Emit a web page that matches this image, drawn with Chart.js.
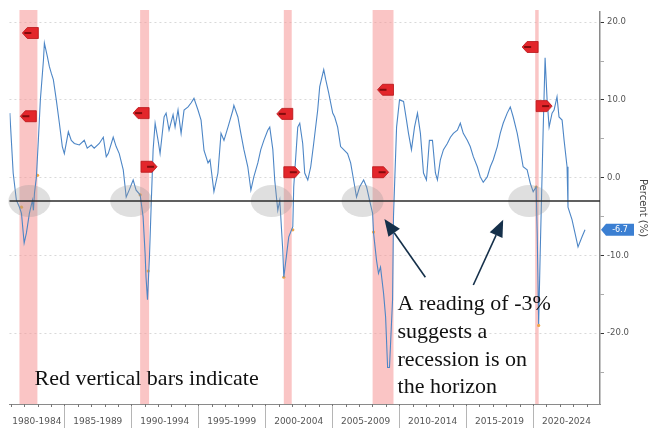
<!DOCTYPE html>
<html>
<head>
<meta charset="utf-8">
<script src="https://cdn.jsdelivr.net/npm/chart.js@4.4.0/dist/chart.umd.min.js"></script>
<style>
  html, body { margin: 0; padding: 0; background: #fff; }
  #wrap { width: 649px; height: 429px; }
</style>
</head>
<body>
<div id="wrap"><canvas id="chart" width="649" height="429"></canvas></div>
<script>
// series (year, percent)
const years = [
  1980.93, 1981.18, 1981.42, 1981.65, 1981.80, 1982.00, 1982.17, 1982.39, 1982.62, 1982.69,
  1982.77, 1982.91, 1983.06, 1983.21, 1983.44, 1983.51, 1983.73, 1983.88, 1984.03, 1984.18,
  1984.40, 1984.63, 1984.85, 1985.00, 1985.30, 1985.52, 1985.75, 1986.12, 1986.49, 1986.71,
  1987.01, 1987.23, 1987.61, 1987.91, 1988.13, 1988.28, 1988.65, 1988.87, 1989.10, 1989.40,
  1989.62, 1989.84, 1990.14, 1990.36, 1990.66, 1990.88, 1991.03, 1991.10, 1991.21, 1991.36,
  1991.48, 1991.63, 1991.78, 1992.00, 1992.15, 1992.45, 1992.60, 1992.82, 1993.12, 1993.27,
  1993.49, 1993.72, 1993.94, 1994.24, 1994.46, 1994.68, 1994.98, 1995.21, 1995.43, 1995.73,
  1995.88, 1996.17, 1996.47, 1996.70, 1996.92, 1997.22, 1997.59, 1997.66, 1997.96, 1998.18,
  1998.41, 1998.70, 1998.93, 1999.15, 1999.45, 1999.67, 1999.90, 2000.19, 2000.34, 2000.57,
  2000.71, 2000.94, 2001.09, 2001.31, 2001.39, 2001.61, 2001.76, 2002.06, 2002.13, 2002.43,
  2002.58, 2002.80, 2002.95, 2003.18, 2003.40, 2003.62, 2003.92, 2004.07, 2004.37, 2004.52,
  2004.74, 2005.04, 2005.19, 2005.41, 2005.63, 2005.86, 2006.15, 2006.38, 2006.60, 2006.82,
  2007.05, 2007.35, 2007.57, 2007.79, 2008.02, 2008.09, 2008.31, 2008.46, 2008.61, 2008.84,
  2008.99, 2009.14, 2009.28, 2009.51, 2009.58, 2009.81, 2010.03, 2010.33, 2010.55, 2010.70,
  2010.92, 2011.15, 2011.37, 2011.59, 2011.82, 2012.04, 2012.26, 2012.49, 2012.71, 2012.86,
  2013.08, 2013.31, 2013.60, 2013.83, 2014.05, 2014.35, 2014.57, 2014.79, 2015.09, 2015.31,
  2015.54, 2015.84, 2016.06, 2016.28, 2016.58, 2016.81, 2017.03, 2017.33, 2017.55, 2017.77,
  2018.07, 2018.30, 2018.52, 2018.82, 2019.04, 2019.26, 2019.56, 2019.79, 2020.01, 2020.23,
  2020.31, 2020.42, 2020.53, 2020.75, 2020.90, 2021.05, 2021.20, 2021.42, 2021.57, 2021.79,
  2021.94, 2022.17, 2022.32, 2022.54, 2022.61, 2022.91, 2023.13, 2023.36, 2023.66, 2023.88
];
const values = [
  8.3, 0.6, -2.9, -3.8, -4.6, -8.4, -7.1, -4.6, -2.9, -4.2,
  -2.0, 0.0, 4.8, 10.0, 15.1, 17.3, 15.6, 14.3, 13.4, 12.6,
  10.0, 7.0, 4.0, 3.1, 5.9, 4.8, 4.4, 4.2, 4.8, 3.8,
  4.2, 3.8, 4.4, 5.2, 2.7, 3.1, 5.2, 4.0, 3.1, 1.0,
  -2.5, -1.6, -0.3, -1.6, -2.2, -5.0, -9.7, -12.8, -15.7, -10.0,
  -3.8, 3.6, 7.0, 4.8, 3.1, 7.8, 8.3, 6.1, 8.1, 6.5,
  8.7, 5.7, 8.7, 9.1, 9.6, 10.2, 8.7, 7.4, 3.5, 1.9,
  2.3, -1.8, 0.6, 5.7, 4.8, 6.5, 8.7, 9.3, 7.8, 5.7,
  3.6, 1.4, -1.6, 0.1, 1.9, 3.6, 4.8, 6.1, 6.5, 3.6,
  -0.3, -4.2, -2.9, -9.3, -12.8, -9.7, -7.6, -6.3, -1.2, 6.5,
  7.0, 4.4, 0.6, -0.3, 1.4, 4.4, 8.7, 11.7, 13.9, 12.6,
  10.9, 8.3, 7.8, 6.5, 4.0, 3.6, 3.1, 1.9, -0.3, -2.5,
  -1.2, -0.3, -1.2, -2.9, -4.6, -7.1, -10.6, -12.3, -11.5, -14.9,
  -17.9, -24.4, -24.4, -15.7, -5.0, 6.5, 10.0, 9.8, 7.4, 5.7,
  3.6, 6.5, 8.3, 5.7, 0.6, -0.3, 4.8, 4.8, 0.6, -0.3,
  2.3, 3.6, 4.4, 5.2, 5.7, 6.1, 7.0, 5.7, 4.8, 4.0,
  2.7, 1.4, 0.1, -0.6, 0.1, 1.4, 2.3, 4.0, 5.7, 7.0,
  8.3, 9.1, 7.8, 5.7, 3.6, 1.4, 1.0, -0.7, -1.8, -1.2,
  -7.1, -18.8, -10.0, 5.7, 15.4, 10.0, 6.5, 8.3, 8.7, 10.4,
  7.8, 7.4, 4.8, 1.4, -3.8, -5.4, -7.1, -8.9, -7.6, -6.7
];

// small orange markers on the line
const dotYears = [1981.80, 1983.00, 1990.66, 1991.26, 2001.39, 2002.06, 2008.09, 2020.23, 2020.42];
const dotValues = [-3.8, 0.3, -2.2, -12.0, -12.8, -6.7, -7.0, -1.2, -19.0];

// recession spans (start, end)
const recStarts = [1981.65, 1990.66, 2001.39, 2008.02, 2020.16];
const recEnds = [1982.99, 1991.33, 2001.98, 2009.58, 2020.42];

// red flags: flat end year, value, direction (-1 points left, 1 points right)
const flagYears = [1983.06, 1982.91, 1991.33, 1990.73, 2002.06, 2001.39, 2009.58, 2008.02, 2020.38, 2020.23];
const flagValues = [18.6, 7.9, 8.3, 1.4, 8.2, 0.7, 11.3, 0.7, 16.8, 9.2];
const flagDirs = [-1, -1, -1, 1, -1, 1, -1, 1, -1, 1];

// grey circles where the line touches -3
const circleYears = [1982.39, 1989.99, 2000.49, 2007.27, 2019.71];
const threshold = -3;

const periodStarts = [1980, 1985, 1990, 1995, 2000, 2005, 2010, 2015, 2020];
const periodLabels = ['1980-1984', '1985-1989', '1990-1994', '1995-1999', '2000-2004',
                      '2005-2009', '2010-2014', '2015-2019', '2020-2024'];
const yTicks = [20, 10, 0, -10, -20];

const xMin = 1980.903, xMax = 2025.0;
const yMin = -29.1, yMax = 21.3;

const noteLines = ['A reading of -3%', 'suggests a', 'recession is on', 'the horizon'];
const noteAt = [2009.88, -17.03];
const leftNote = 'Red vertical bars indicate';
const leftNoteAt = [1982.77, -26.6];
// arrows: [tailYear, tailValue, tipYear, tipValue]
const arrows = [[2011.96, -12.8, 2008.90, -5.3], [2015.54, -13.8, 2017.77, -5.4]];

const centers = periodStarts.map(s => (Math.max(s, xMin) + Math.min(s + 5, xMax)) / 2);

function arrow(ctx, x1, y1, x2, y2) {
    const ang = Math.atan2(y2 - y1, x2 - x1);
    const len = 17, half = 7;
    const bx = x2 - len * Math.cos(ang), by = y2 - len * Math.sin(ang);
    ctx.beginPath();
    ctx.moveTo(x1, y1);
    ctx.lineTo(bx, by);
    ctx.stroke();
    ctx.beginPath();
    ctx.moveTo(x2, y2);
    ctx.lineTo(bx + half * Math.sin(ang), by - half * Math.cos(ang));
    ctx.lineTo(bx - half * Math.sin(ang), by + half * Math.cos(ang));
    ctx.closePath();
    ctx.fill();
}

const extras = {
    id: 'extras',
    beforeDatasetsDraw(chart) {
        const {ctx, chartArea: a, scales: {x}} = chart;
        ctx.save();
        ctx.fillStyle = 'rgba(246,150,150,0.55)';
        recStarts.forEach((s, i) => {
            const x1 = x.getPixelForValue(s), x2 = x.getPixelForValue(recEnds[i]);
            ctx.fillRect(x1, a.top - 2, Math.max(x2 - x1, 2), a.bottom - a.top + 2);
        });
        ctx.restore();
    },
    afterDatasetsDraw(chart) {
        const {ctx, chartArea: a, scales: {x, y}} = chart;
        ctx.save();
        // grey circles
        ctx.fillStyle = 'rgba(150,150,150,0.3)';
        circleYears.forEach(c => {
            ctx.beginPath();
            ctx.ellipse(x.getPixelForValue(c), y.getPixelForValue(threshold), 21, 16, 0, 0, Math.PI * 2);
            ctx.fill();
        });
        // -3 line
        ctx.strokeStyle = '#2b2b2b';
        ctx.lineWidth = 1.5;
        ctx.beginPath();
        ctx.moveTo(a.left, y.getPixelForValue(threshold));
        ctx.lineTo(a.right, y.getPixelForValue(threshold));
        ctx.stroke();
        // red flags
        flagYears.forEach((f, i) => {
            const fx = x.getPixelForValue(f), fy = y.getPixelForValue(flagValues[i]);
            const d = flagDirs[i];
            ctx.beginPath();
            ctx.moveTo(fx, fy - 5.5);
            ctx.lineTo(fx + d * 11, fy - 5.5);
            ctx.lineTo(fx + d * 16, fy);
            ctx.lineTo(fx + d * 11, fy + 5.5);
            ctx.lineTo(fx, fy + 5.5);
            ctx.closePath();
            ctx.fillStyle = '#e3262b';
            ctx.fill();
            ctx.strokeStyle = '#b81418';
            ctx.lineWidth = 0.8;
            ctx.stroke();
            ctx.fillStyle = 'rgba(90,0,0,0.7)';
            ctx.fillRect(fx + d * 10 - 4, fy - 1, 7, 2);
        });
        // notes
        ctx.fillStyle = '#111';
        ctx.font = '22px "Liberation Serif"';
        ctx.textBaseline = 'alphabetic';
        const nx = x.getPixelForValue(noteAt[0]), ny = y.getPixelForValue(noteAt[1]);
        noteLines.forEach((t, i) => ctx.fillText(t, nx, ny + i * 27.7));
        ctx.fillText(leftNote, x.getPixelForValue(leftNoteAt[0]), y.getPixelForValue(leftNoteAt[1]));
        // arrows
        ctx.strokeStyle = '#15304a';
        ctx.fillStyle = '#15304a';
        ctx.lineWidth = 1.6;
        arrows.forEach(r => arrow(ctx, x.getPixelForValue(r[0]), y.getPixelForValue(r[1]),
                                       x.getPixelForValue(r[2]), y.getPixelForValue(r[3])));
        ctx.restore();
    },
    afterDraw(chart) {
        const {ctx, chartArea: a, scales: {x, y}} = chart;
        ctx.save();
        // year ticks
        ctx.strokeStyle = '#777';
        ctx.lineWidth = 1;
        for (let yr = Math.ceil(xMin); yr < xMax; yr++) {
            const px = Math.round(x.getPixelForValue(yr)) + 0.5;
            ctx.beginPath();
            ctx.moveTo(px, a.bottom);
            ctx.lineTo(px, a.bottom + (yr % 5 === 0 ? 4 : 3));
            ctx.stroke();
        }
        // period separators
        ctx.strokeStyle = '#b5b5b5';
        periodStarts.forEach(s => {
            if (s <= xMin) return;
            const px = Math.round(x.getPixelForValue(s)) + 0.5;
            ctx.beginPath();
            ctx.moveTo(px, a.bottom + 2);
            ctx.lineTo(px, a.bottom + 24);
            ctx.stroke();
        });
        // last value tag
        const last = values[values.length - 1];
        const ty = y.getPixelForValue(last);
        const tx = a.right + 1;
        ctx.fillStyle = '#3b7fd2';
        ctx.beginPath();
        ctx.moveTo(tx, ty);
        ctx.lineTo(tx + 5, ty - 6);
        ctx.lineTo(tx + 33, ty - 6);
        ctx.lineTo(tx + 33, ty + 6);
        ctx.lineTo(tx + 5, ty + 6);
        ctx.closePath();
        ctx.fill();
        ctx.fillStyle = '#fff';
        ctx.font = '8px "DejaVu Sans"';
        ctx.textAlign = 'center';
        ctx.textBaseline = 'middle';
        ctx.fillText(last.toFixed(1), tx + 19, ty + 0.5);
        ctx.restore();
    }
};

new Chart(document.getElementById('chart'), {
    data: {
        datasets: [
            {
                type: 'line',
                data: years.map((yr, i) => ({x: yr, y: values[i]})),
                borderColor: '#4d86c6',
                borderWidth: 1.1,
                pointRadius: 0,
                tension: 0
            },
            {
                type: 'scatter',
                data: dotYears.map((yr, i) => ({x: yr, y: dotValues[i]})),
                backgroundColor: '#f0a64a',
                borderWidth: 0,
                pointRadius: 1.6
            }
        ]
    },
    options: {
        responsive: false,
        animation: false,
        layout: {padding: {left: 8, top: 12, right: 0, bottom: 0}},
        plugins: {legend: {display: false}, tooltip: {enabled: false}},
        scales: {
            x: {
                type: 'linear',
                min: xMin,
                max: xMax,
                afterBuildTicks: s => { s.ticks = centers.map(v => ({value: v})); },
                afterFit: s => { s.height = 25; },
                grid: {display: false, drawTicks: false},
                border: {display: true, color: '#8a8a8a', width: 1},
                ticks: {
                    autoSkip: false,
                    maxRotation: 0,
                    padding: 12,
                    color: '#555',
                    font: {family: 'DejaVu Sans', size: 9},
                    callback: (v, i) => periodLabels[i]
                }
            },
            y: {
                position: 'right',
                min: yMin,
                max: yMax,
                afterBuildTicks: s => {
                    const t = [];
                    for (let v = 20; v >= -25; v -= 5) t.push({value: v});
                    s.ticks = t;
                },
                afterFit: s => { s.width = 49; },
                grid: {
                    color: c => yTicks.includes(c.tick.value) ? 'rgba(185,185,185,0.55)' : 'rgba(0,0,0,0)',
                    tickColor: c => yTicks.includes(c.tick.value) ? '#333' : '#aaa',
                    tickLength: 4
                },
                border: {display: true, color: '#8a8a8a', width: 1.5, dash: [2, 3]},
                title: {display: true, text: 'Percent (%)', color: '#444',
                        font: {family: 'DejaVu Sans', size: 10}, padding: {top: 0, bottom: 2}},
                ticks: {
                    padding: 3,
                    color: '#555',
                    font: {family: 'DejaVu Sans', size: 8.5},
                    callback: v => yTicks.includes(v) ? v.toFixed(1) : ''
                }
            }
        }
    },
    plugins: [extras]
});
</script>
</body>
</html>
